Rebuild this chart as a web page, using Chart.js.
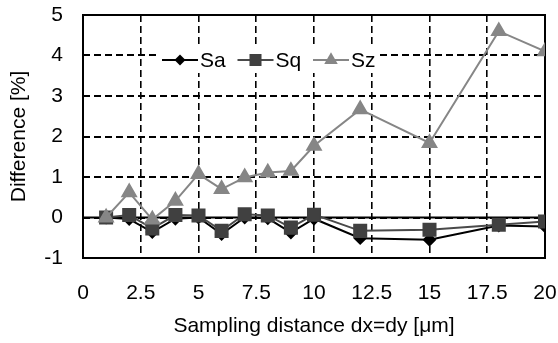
<!DOCTYPE html>
<html>
<head>
<meta charset="utf-8">
<script src="https://cdn.jsdelivr.net/npm/chart.js@4.4.1/dist/chart.umd.min.js"></script>
<style>
  html, body { margin: 0; padding: 0; background: #fff; }
  #wrap { width: 558px; height: 343px; }
</style>
</head>
<body>
<div id="wrap"><canvas id="diff-chart"></canvas></div>
<script>
// sampling distance dx=dy [um]
const samplingDistance = [1, 2, 3, 4, 5, 6, 7, 8, 9, 10, 12, 15, 18, 20];

// difference [%] per roughness parameter
const saValues = [0, -0.04, -0.36, -0.03, 0, -0.41, 0, -0.02, -0.37, -0.03, -0.51, -0.55, -0.2, -0.22];
const sqValues = [0, 0.06, -0.27, 0.06, 0.05, -0.33, 0.08, 0.05, -0.25, 0.07, -0.33, -0.3, -0.18, -0.1];
const szValues = [0, 0.62, -0.05, 0.41, 1.07, 0.7, 0.99, 1.11, 1.15, 1.77, 2.67, 1.84, 4.6, 4.1];

const xTicks = [0, 2.5, 5, 7.5, 10, 12.5, 15, 17.5, 20];
const yTicks = [-1, 0, 1, 2, 3, 4, 5];

const fontFamily = "'Liberation Sans', Arial, sans-serif";
const fontSize = 21;

function toPoints(values) {
    return samplingDistance.map((x, i) => ({ x: x, y: values[i] }));
}

// frame round the plot area plus the solid zero line
const framePlugin = {
    id: "frame",
    beforeDatasetsDraw(chart) {
        const { ctx, chartArea } = chart;
        const yZero = chart.scales.y.getPixelForValue(0);
        ctx.save();
        ctx.strokeStyle = "#000";
        ctx.lineWidth = 2;
        ctx.setLineDash([]);
        ctx.beginPath();
        ctx.moveTo(chartArea.left, yZero);
        ctx.lineTo(chartArea.right, yZero);
        ctx.stroke();
        ctx.strokeRect(
            chartArea.left,
            chartArea.top,
            chartArea.right - chartArea.left,
            chartArea.bottom - chartArea.top
        );
        ctx.restore();
    },
};

function drawMarker(ctx, style, x, y, r) {
    ctx.beginPath();
    if (style === "rectRot") {
        ctx.moveTo(x, y - r);
        ctx.lineTo(x + r, y);
        ctx.lineTo(x, y + r);
        ctx.lineTo(x - r, y);
    } else if (style === "rect") {
        const s = r * Math.SQRT1_2;
        ctx.rect(x - s, y - s, 2 * s, 2 * s);
    } else {
        ctx.moveTo(x, y - r);
        ctx.lineTo(x + r * 0.866, y + r * 0.5);
        ctx.lineTo(x - r * 0.866, y + r * 0.5);
    }
    ctx.closePath();
    ctx.fill();
}

// legend inside the plot, on a white box
const insideLegendPlugin = {
    id: "insideLegend",
    afterDatasetsDraw(chart) {
        const { ctx, chartArea } = chart;
        const left = chartArea.left + 74;
        const top = chartArea.top + 32;
        ctx.save();
        ctx.fillStyle = "#fff";
        ctx.fillRect(left, top, 222, 26);
        const cy = top + 13;
        ctx.font = fontSize + "px " + fontFamily;
        ctx.textBaseline = "middle";
        chart.data.datasets.forEach((ds, i) => {
            const x0 = left + 5 + i * 75.5;
            ctx.strokeStyle = ds.borderColor;
            ctx.lineWidth = 2;
            ctx.beginPath();
            ctx.moveTo(x0, cy);
            ctx.lineTo(x0 + 36, cy);
            ctx.stroke();
            ctx.fillStyle = ds.pointBackgroundColor;
            drawMarker(ctx, ds.pointStyle, x0 + 18, cy, ds.pointRadius);
            ctx.fillStyle = "#000";
            ctx.fillText(ds.label, x0 + 38, cy + 1);
        });
        ctx.restore();
    },
};

const diffContext = document.getElementById("diff-chart");

const diffData = {
    datasets: [
        {
            label: "Sa",
            data: toPoints(saValues),
            borderColor: "#000000",
            backgroundColor: "#000000",
            pointBackgroundColor: "#000000",
            pointBorderColor: "#000000",
            pointStyle: "rectRot",
            pointRadius: 5.5,
            borderWidth: 2,
            order: 3,
        },
        {
            label: "Sq",
            data: toPoints(sqValues),
            borderColor: "#4a4a4a",
            backgroundColor: "#404040",
            pointBackgroundColor: "#404040",
            pointBorderColor: "#404040",
            pointStyle: "rect",
            pointRadius: 8.5,
            borderWidth: 2,
            order: 2,
        },
        {
            label: "Sz",
            data: toPoints(szValues),
            borderColor: "#868686",
            backgroundColor: "#868686",
            pointBackgroundColor: "#868686",
            pointBorderColor: "#868686",
            pointStyle: "triangle",
            pointRadius: 7.8,
            borderWidth: 2,
            order: 1,
        },
    ],
};

const diffConfig = {
    type: "line",
    data: diffData,
    options: {
        responsive: true,
        maintainAspectRatio: false,
        animation: false,
        layout: {
            autoPadding: false,
            padding: { left: 7, right: 13, top: 15, bottom: 0 },
        },
        elements: { line: { tension: 0 }, point: { borderWidth: 0 } },
        plugins: {
            legend: { display: false },
            tooltip: { enabled: false },
        },
        scales: {
            x: {
                type: "linear",
                min: 0,
                max: 20,
                afterBuildTicks: (scale) => {
                    scale.ticks = xTicks.map((v) => ({ value: v }));
                },
                afterFit: (scale) => {
                    scale.height = 85;
                    scale.paddingLeft = 0;
                    scale.paddingRight = 0;
                },
                ticks: {
                    color: "#000",
                    padding: 23,
                    maxRotation: 0,
                    autoSkip: false,
                    font: { family: fontFamily, size: fontSize },
                    callback: (v) => String(v),
                },
                grid: { color: "#000", lineWidth: 1.6, drawTicks: false },
                border: { display: false, dash: [7, 4] },
                title: {
                    display: true,
                    text: "Sampling distance dx=dy [μm]",
                    color: "#000",
                    font: { family: fontFamily, size: fontSize },
                    padding: { top: 9, bottom: 4 },
                },
            },
            y: {
                min: -1,
                max: 5,
                afterBuildTicks: (scale) => {
                    scale.ticks = yTicks.map((v) => ({ value: v }));
                },
                afterFit: (scale) => {
                    scale.width = 76;
                    scale.paddingTop = 0;
                    scale.paddingBottom = 0;
                },
                ticks: {
                    color: "#000",
                    padding: 20,
                    font: { family: fontFamily, size: fontSize },
                },
                grid: { color: "#000", lineWidth: 2, drawTicks: false },
                border: { display: false, dash: [7, 4] },
                title: {
                    display: true,
                    text: "Difference [%]",
                    color: "#000",
                    font: { family: fontFamily, size: fontSize },
                    padding: { top: 0, bottom: 10 },
                },
            },
        },
    },
    plugins: [framePlugin, insideLegendPlugin],
};

const diffChart = new Chart(diffContext, diffConfig);
</script>
</body>
</html>
